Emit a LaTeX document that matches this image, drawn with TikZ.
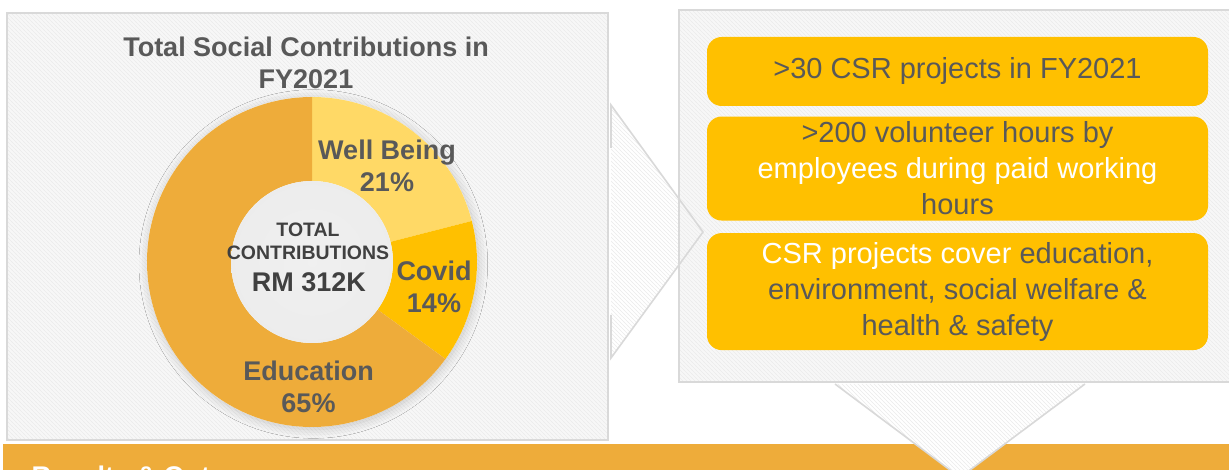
\documentclass[tikz,border=0pt]{standalone}
\usepackage{fontspec}
\setmainfont{Liberation Sans}
\usetikzlibrary{positioning,patterns,shadows.blur}
\definecolor{edu}{HTML}{EEAC3A}
\definecolor{wellb}{HTML}{FFD966}
\definecolor{covid}{HTML}{FFC000}
\definecolor{txtgrey}{HTML}{595959}
\definecolor{darkgrey}{HTML}{404040}
\definecolor{panelline}{HTML}{D9D9D9}
\definecolor{panelfill}{HTML}{F7F7F7}
\definecolor{hatch}{HTML}{EBEBEB}
\pgfdeclareradialshading{holeshade}{\pgfpoint{0bp}{0bp}}{color(0bp)=(white!94!black); color(38bp)=(white!92!black); color(50bp)=(white!78!black)}

\begin{document}
\begin{tikzpicture}[x=0.75pt,y=0.75pt,
    panel/.style={draw=panelline,line width=1.2pt,preaction={fill=panelfill},
                  preaction={pattern=north west lines,pattern color=hatch}},
    arrow fill/.style={preaction={fill=white},pattern=north west lines,pattern color=hatch},
    seg label/.style={font=\fontsize{20.25}{24}\selectfont\bfseries,text=txtgrey,align=center},
    ctr label/.style={font=\fontsize{14.6}{17}\selectfont\bfseries,text=darkgrey},
    main box/.style={fill=covid,rounded corners=11pt,minimum width=375.75pt,inner sep=2pt,
                     align=center,text=txtgrey,font=\fontsize{21.75}{27}\selectfont}]
  \useasboundingbox (0,0) rectangle (1229,470);
  \clip (0,0) rectangle (1229,470);

  \fill[edu] (3,-5) rectangle (1235,26);
  \node[anchor=base west,text=white,font=\fontsize{20.25}{24}\selectfont\bfseries] (res) at (27,-16) {Results \& Outcomes};

  \path[panel] (7,30) rectangle (608,457);
  \path[arrow fill] (611,365) -- (703,238) -- (611,112) -- cycle;
  \path[panel] (679,88) rectangle (1245,460);
  \draw[panelline,line width=1.2pt] (611,322) -- (611,365) -- (703,238) -- (611,112) -- (611,155);
  \path[arrow fill] (835,86) -- (960,-7.5) -- (1085,86) -- cycle;
  \draw[panelline,line width=1.2pt] (835,86) -- (960,-7.5) -- (1085,86);

  \coordinate (c) at (312,208);
  \fill[white,blur shadow={shadow xshift=1pt,shadow yshift=-1.5pt,shadow blur radius=7pt,shadow opacity=20}]
    (c) circle[radius=165];
  \foreach \a/\b/\col in {90/14.4/wellb,14.4/-36/covid,-36/-270/edu}
    \fill[\col,shift={(c)}] (\a:165) arc[start angle=\a,end angle=\b,radius=165]
      -- (\b:81) arc[start angle=\b,end angle=\a,radius=81] -- cycle;
  \shade[shading=holeshade] (c) circle[radius=81];

  \node[seg label] (title) at (306,407) {Total Social Contributions in\\FY2021};
  \node[seg label] (wb) at (387,304) {Well Being\\21\%};
  \node[seg label] (cov) at (434,183.5) {Covid\\14\%};
  \node[seg label] (ed) at (308.5,83.5) {Education\\65\%};
  \node[ctr label] (ctot) at (308,240) {TOTAL};
  \node[ctr label] (ccon) at (308,217) {CONTRIBUTIONS};
  \node[ctr label,font=\fontsize{20.25}{24}\selectfont\bfseries] (crm) at (309,188) {RM 312K};

  \node[main box,minimum height=51.75pt] (box1) at (957.5,398.5) {>30 CSR projects in FY2021};
  \node[main box,minimum height=78pt,below=7.5pt of box1] (box2)
    {>200 volunteer hours by\\ \color{white}employees during paid working\\ hours};
  \node[main box,minimum height=87.75pt,below=9pt of box2] (box3)
    {\textcolor{white}{CSR projects cover} education,\\ environment, social welfare \&\\ health \& safety};
\end{tikzpicture}
\end{document}
